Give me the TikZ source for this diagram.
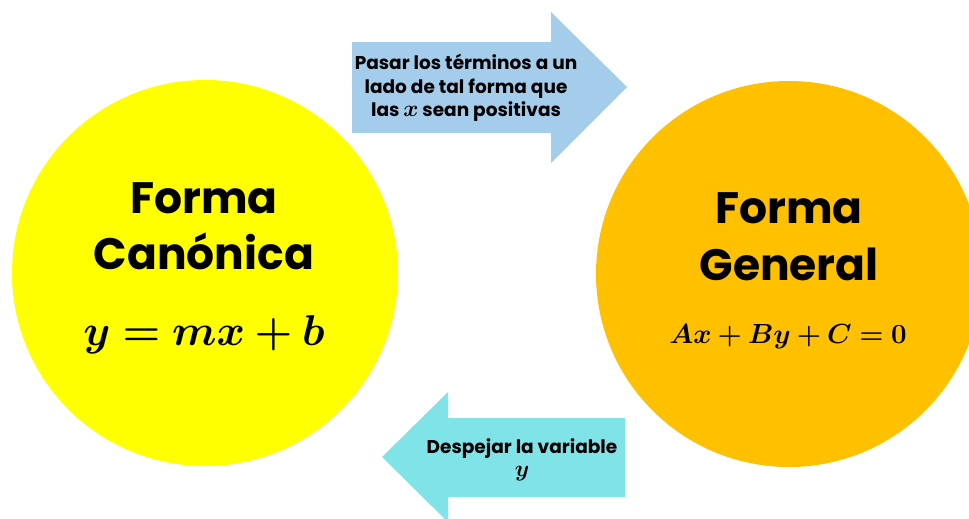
\documentclass[tikz,border=0pt]{standalone}
\usepackage{amsmath,bm}
\usepackage{graphicx}
\usepackage{fontspec}
\setmainfont{Poppins}
\usetikzlibrary{positioning}

\definecolor{amarillo}{RGB}{255,255,0}
\definecolor{naranja}{RGB}{255,192,0}
\definecolor{celeste}{RGB}{164,205,236}
\definecolor{turquesa}{RGB}{128,227,232}

\tikzset{every picture/.style={line width=0.75pt}}
\tikzset{
  forma/.style={circle,inner sep=0pt,minimum size=289.5pt},
  titulo/.style={anchor=base,inner sep=0pt,font=\fontsize{33}{40}\selectfont\bfseries},
  nota/.style={align=center,inner sep=0.75pt,font=\fontsize{13.9}{17.5}\selectfont\bfseries}
}
\newcommand{\varm}[1]{{\fontsize{17.28}{17.5}\selectfont$\bm{#1}$}}

\begin{document}
\begin{tikzpicture}[x=0.75pt,y=0.75pt,yscale=-1,xscale=1]
\useasboundingbox (0,0) rectangle (969,518);
\clip (0,0) rectangle (969,518);

%Shape: Circle [id:canonica]
\node [forma,fill=amarillo] (canonica) at (205,273) {};
%Shape: Circle [id:general]
\node [forma,fill=naranja] (general) at (789,274) {};

%Shape: Right Arrow [id:pasar]
\fill [celeste] (352,42) -- (551,42) -- (551,12) -- (627,87) -- (551,163) -- (551,133) -- (352,133) -- cycle ;
%Shape: Left Arrow [id:despejar]
\fill [turquesa] (625,418) -- (448,418) -- (448,392) -- (382,457) -- (448,522) -- (448,497) -- (625,497) -- cycle ;

% Text Node
\node [titulo] (formaC) at (204,213) {Forma};
% Text Node
\node [titulo] (nombreC) at (204,269) {Canónica};
% Text Node
\node [anchor=base,inner sep=0pt,font=\fontsize{24.88}{30}\selectfont] (ecC) at (204,345) {\scalebox{1.3}{$\bm{y=mx+b}$}};

% Text Node
\node [titulo] (formaG) at (789,223) {Forma};
% Text Node
\node [titulo] (nombreG) at (789,280) {General};
% Text Node
\node [anchor=base,inner sep=0pt,font=\fontsize{22.5}{27}\selectfont] (ecG) at (788,343) {$\bm{Ax+By+C=0}$};

% Text Node
\node [nota] (textoPasar) at (466,88) {Pasar los términos a un\\lado de tal forma que\\las \varm{x} sean positivas};
% Text Node
\node [nota] (textoDespejar) at (522,460) {Despejar la variable\\\varm{y}};

\end{tikzpicture}
\end{document}
